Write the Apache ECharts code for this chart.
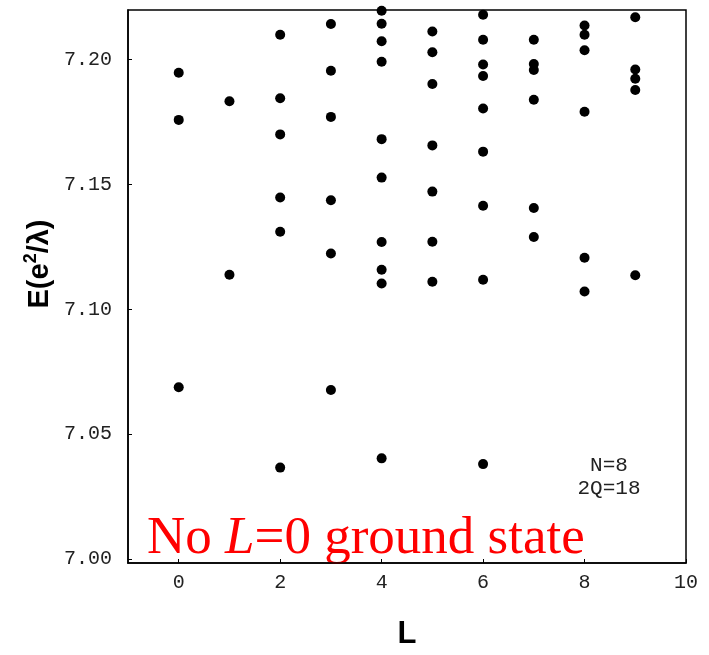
<!DOCTYPE html>
<html>
<head>
<meta charset="utf-8">
<script src="https://cdn.jsdelivr.net/npm/echarts@6/dist/echarts.min.js"></script>
<style>
  html, body { margin: 0; padding: 0; background: #ffffff; }
  #chart { width: 709px; height: 655px; }
</style>
</head>
<body>
<div id="chart"></div>
<script>
// Angular momentum values (x) and energies per L (y)
const L_values = [0, 1, 2, 3, 4, 5, 6, 7, 8, 9];
const E_L0 = [7.1947, 7.1758, 7.0688];
const E_L1 = [7.1833, 7.1138];
const E_L2 = [7.2099, 7.1845, 7.1700, 7.1447, 7.1310, 7.0366];
const E_L3 = [7.2142, 7.1955, 7.1770, 7.1436, 7.1223, 7.0677];
const E_L4 = [7.2195, 7.2143, 7.2073, 7.1991, 7.1681, 7.1527, 7.1269, 7.1158, 7.1103, 7.0403];
const E_L5 = [7.2112, 7.2029, 7.1902, 7.1656, 7.1471, 7.1270, 7.1110];
const E_L6 = [7.2179, 7.2079, 7.1980, 7.1934, 7.1804, 7.1631, 7.1414, 7.1118, 7.0380];
const E_L7 = [7.2079, 7.1982, 7.1958, 7.1839, 7.1405, 7.1289];
const E_L8 = [7.2136, 7.2099, 7.2037, 7.1791, 7.1206, 7.1071];
const E_L9 = [7.2169, 7.1960, 7.1923, 7.1878, 7.1136];
const xTicks = [0, 2, 4, 6, 8, 10];
const yTicks = [7.00, 7.05, 7.10, 7.15, 7.20];
const annotationLines = ['N=8', '2Q=18'];

const energiesByL = [E_L0, E_L1, E_L2, E_L3, E_L4, E_L5, E_L6, E_L7, E_L8, E_L9];
const points = [];
L_values.forEach((L, i) => energiesByL[i].forEach(E => points.push([L, E])));

const chart = echarts.init(document.getElementById('chart'), null, { renderer: 'canvas' });
const mono = '"Liberation Mono", "DejaVu Sans Mono", monospace';
const sans = '"Liberation Sans", Arial, sans-serif';

chart.setOption({
  animation: false,
  backgroundColor: '#ffffff',
  grid: {
    left: 128, top: 10, width: 558, height: 558,
    show: true, borderColor: '#000', borderWidth: 1.5, backgroundColor: 'transparent'
  },
  xAxis: {
    type: 'value', min: -1, max: 10,
    name: 'L', nameLocation: 'middle', nameGap: 56,
    nameTextStyle: { fontFamily: sans, fontSize: 31, color: '#000', fontWeight: 'bold' },
    axisLine: { show: true, onZero: false, lineStyle: { color: '#000', width: 1.5 } },
    axisTick: { show: true, inside: true, length: 4, customValues: xTicks, lineStyle: { color: '#000', width: 1 } },
    axisLabel: { customValues: xTicks, margin: 10, fontFamily: mono, fontSize: 20, color: '#222', formatter: v => String(v) },
    splitLine: { show: false }
  },
  yAxis: {
    type: 'value', min: 6.99841, max: 7.2198,
    axisLine: { show: true, onZero: false, lineStyle: { color: '#000', width: 1.5 } },
    axisTick: { show: true, inside: true, length: 4, customValues: yTicks, lineStyle: { color: '#000', width: 1 } },
    axisLabel: { customValues: yTicks, margin: 16, fontFamily: mono, fontSize: 20, color: '#222', formatter: v => v.toFixed(2) },
    splitLine: { show: false }
  },
  series: [{
    type: 'scatter',
    data: points,
    symbol: 'circle',
    symbolSize: 10,
    itemStyle: { color: '#000', opacity: 1 },
    clip: false
  }],
  graphic: [
    {
      type: 'text', x: 40, y: 264, rotation: Math.PI / 2,
      style: {
        text: '{b|E(e}{sup|2}{b|/λ)}',
        fill: '#000',
        font: 'bold 29px ' + sans,
        align: 'center', verticalAlign: 'middle',
        rich: {
          b: { fontSize: 29, fontWeight: 'bold', fontFamily: sans, lineHeight: 36, verticalAlign: 'middle' },
          sup: { fontSize: 18, fontWeight: 'bold', fontFamily: sans, lineHeight: 18, verticalAlign: 'top' }
        }
      }
    },
    {
      type: 'text', x: 609, y: 465,
      style: { text: annotationLines[0], fill: '#222', font: '21px ' + mono, align: 'center', verticalAlign: 'middle' }
    },
    {
      type: 'text', x: 609, y: 488,
      style: { text: annotationLines[1], fill: '#222', font: '21px ' + mono, align: 'center', verticalAlign: 'middle' }
    },
    {
      type: 'text', x: 147, y: 539,
      style: {
        text: 'No {it|L}=0 ground state',
        fill: '#ff0000',
        font: '53px "Liberation Serif", "Times New Roman", serif',
        align: 'left', verticalAlign: 'middle',
        rich: { it: { fontStyle: 'italic', fontSize: 53, fontFamily: '"Liberation Serif", "Times New Roman", serif', color: '#ff0000' } }
      }
    }
  ]
});
</script>
</body>
</html>
